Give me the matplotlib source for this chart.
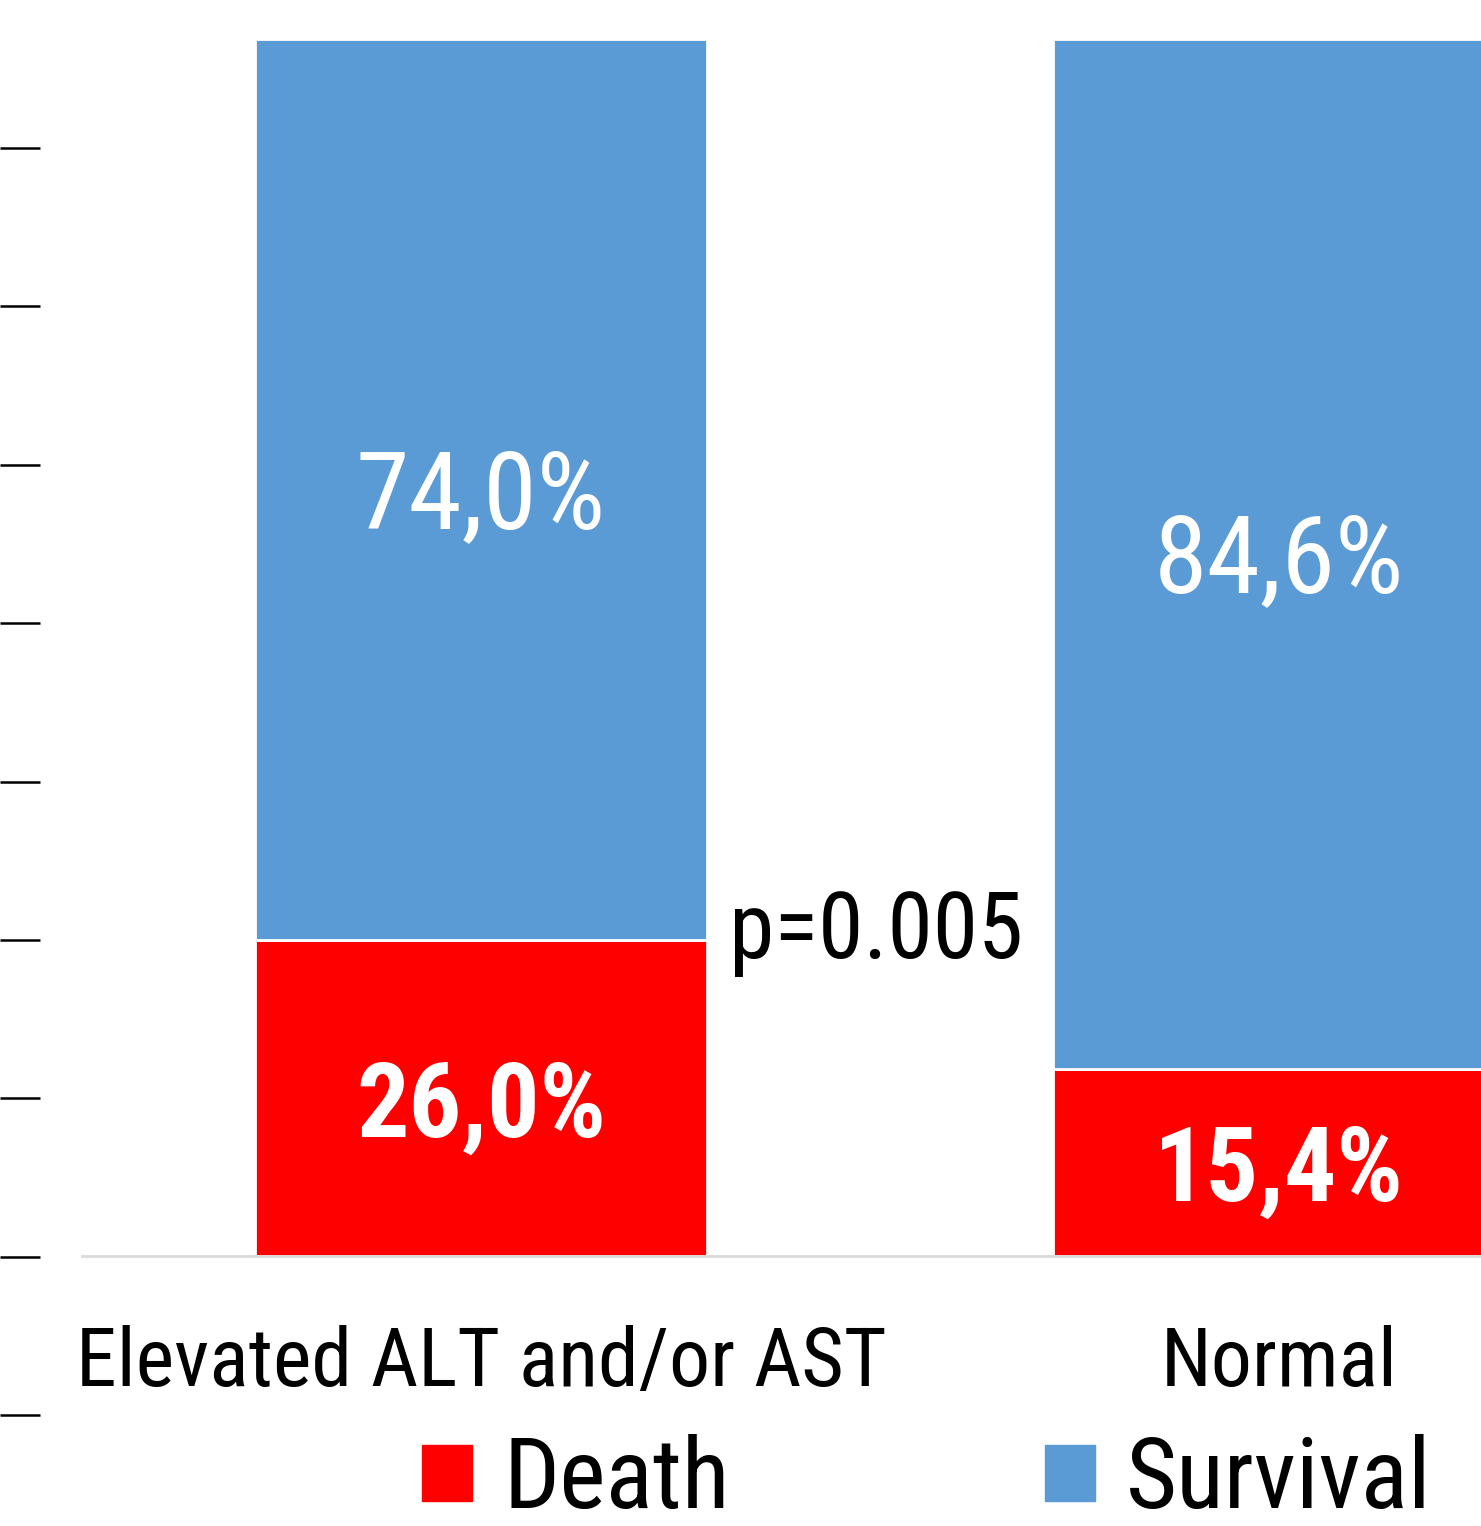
import matplotlib.pyplot as plt
import numpy as np
from matplotlib.patches import Patch

categories = ['Elevated ALT and/or AST', 'Normal']
death = [26.0, 15.4]
survival = [74.0, 84.6]
p_text = 'p=0.005'

plt.rcParams['font.family'] = ['Liberation Sans Narrow', 'Roboto Condensed', 'Archivo Narrow', 'DejaVu Sans']

W, H = 1481, 1526
fig = plt.figure(figsize=(W / 100, H / 100), dpi=100)

# main axes: left 82px, bottom line at 1256px, top of bars at 39px
ax = fig.add_axes([82 / W, 1 - 1256 / H, (W - 82) / W, 1217 / H])

death_color = '#ff0000'
surv_color = '#5b9bd5'
x = np.arange(len(categories))
width = 0.566

d = np.array(death) / 100
s = np.array(survival) / 100
ax.bar(x, d, width=width, color=death_color, edgecolor='white', linewidth=2)
ax.bar(x, s, width=width, bottom=d, color=surv_color, edgecolor='white', linewidth=2)

for i in range(len(categories)):
    ax.annotate(f'{death[i]:.1f}%'.replace('.', ','), (x[i], d[i] / 2), xytext=(0, -7.5),
                textcoords='offset points', ha='center', va='center',
                color='white', fontsize=75, fontweight='bold')
    ax.annotate(f'{survival[i]:.1f}%'.replace('.', ','), (x[i], d[i] + s[i] / 2), xytext=(0, -6.5),
                textcoords='offset points', ha='center', va='center',
                color='white', fontsize=78)

ax.text(0.311, 0.245, p_text, ha='left', va='baseline', fontsize=66, color='black')

ax.set_xlim(-0.5, 1.253)
ax.set_ylim(0, 1)
ax.set_xticks(x)
ax.set_xticklabels(categories, fontsize=59)
ax.tick_params(axis='x', length=0, pad=50)
ax.set_yticks([])
for side in ['top', 'right', 'left']:
    ax.spines[side].set_visible(False)
ax.spines['bottom'].set_color('#d9d9d9')
ax.spines['bottom'].set_linewidth(2)

# loose tick marks at the left edge
tax = fig.add_axes([40 / W, 1 - 1415 / H, 1 / W, 1267 / H])
tax.set_ylim(0, 8)
tax.set_yticks(range(9))
tax.set_yticklabels([])
tax.tick_params(axis='y', length=29, width=1.8, direction='out')
tax.set_xticks([])
for side in ['top', 'right', 'left', 'bottom']:
    tax.spines[side].set_visible(False)
tax.patch.set_visible(False)

handles = [Patch(color=death_color, label='Death'), Patch(color=surv_color, label='Survival')]
fig.legend(handles=handles, loc='center', bbox_to_anchor=(927 / W, 1 - 1481 / H), ncol=2,
           frameon=False, fontsize=71, handlelength=0.5, handleheight=0.5,
           handletextpad=0.32, columnspacing=3.2, borderpad=0)

fig.savefig('out.png', dpi=100)
